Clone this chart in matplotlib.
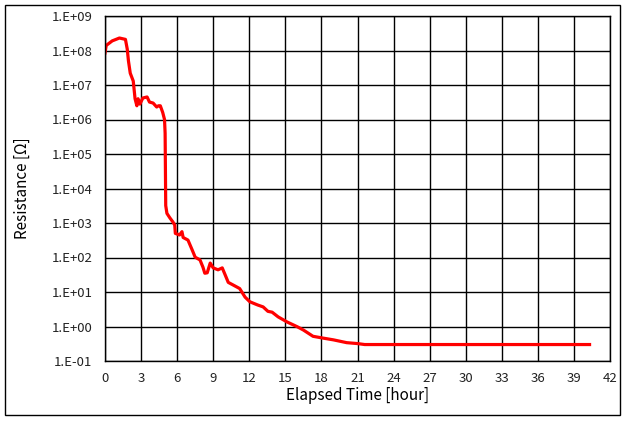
import math
import matplotlib
matplotlib.use("Agg")
import matplotlib.pyplot as plt
from matplotlib.patches import Rectangle
from matplotlib.ticker import FixedLocator, FuncFormatter, NullLocator

plt.rcParams['font.family'] = ['Noto Sans CJK KR', 'DejaVu Sans']

hours = [0.0, 0.1, 0.6, 1.2, 1.7, 1.85, 1.95, 2.1, 2.35, 2.5, 2.65, 2.75, 2.9,
         3.15, 3.5, 3.7, 4.0, 4.3, 4.45, 4.6, 4.8, 4.95, 5.0, 5.05, 5.15, 5.4,
         5.65, 5.8, 5.85, 6.2, 6.4, 6.5, 6.9, 7.25, 7.5, 7.9, 8.15, 8.3, 8.5,
         8.75, 9.0, 9.4, 9.75, 10.0, 10.25, 10.65, 11.2, 11.65, 12.05, 12.7,
         13.15, 13.55, 13.9, 14.4, 15.15, 16.0, 16.5, 17.3, 18.15, 19.0, 20.1,
         21.0, 21.6, 40.3]
resistance = [8.5e7, 1.4e8, 1.9e8, 2.3e8, 2.1e8, 1.1e8, 5.0e7, 2.2e7, 1.3e7,
              4.0e6, 2.5e6, 4.0e6, 2.8e6, 4.2e6, 4.5e6, 3.2e6, 3.0e6, 2.3e6,
              2.5e6, 2.5e6, 1.6e6, 1.0e6, 4.0e5, 3.2e3, 1.9e3, 1.4e3, 1.07e3,
              870, 500, 450, 560, 380, 320, 166, 102, 85, 52, 35, 36, 69, 50,
              44, 50, 31, 19, 16, 12.6, 7.1, 5.2, 4.2, 3.7, 2.75, 2.6, 1.9,
              1.35, 0.98, 0.79, 0.52, 0.46, 0.41, 0.34, 0.32, 0.30, 0.30]

x_ticks = list(range(0, 43, 3))
y_ticks = [1e-1, 1e0, 1e1, 1e2, 1e3, 1e4, 1e5, 1e6, 1e7, 1e8, 1e9]

fig = plt.figure(figsize=(6.25, 4.21), dpi=100)
fig.patches.append(Rectangle((5/625, 6/421), 615/625, 410/421, transform=fig.transFigure,
                             fill=False, edgecolor='black', linewidth=1.0))
ax = fig.add_axes([105/625, 1 - 361/421, 505/625, 345/421])
ax.plot(hours, resistance, color='#ff0000', linewidth=2.3, solid_joinstyle='round')
ax.set_yscale('log')
ax.set_xlim(0, 42)
ax.set_ylim(1e-1, 1e9)
ax.xaxis.set_major_locator(FixedLocator(x_ticks))
ax.yaxis.set_major_locator(FixedLocator(y_ticks))
ax.yaxis.set_minor_locator(NullLocator())

def fmt(v, pos):
    e = int(round(math.log10(v)))
    return "1.E%s%02d" % ('+' if e >= 0 else '-', abs(e))

ax.yaxis.set_major_formatter(FuncFormatter(fmt))
ax.grid(True, color='black', linewidth=1.0)
for s in ax.spines.values():
    s.set_linewidth(1.0)
ax.tick_params(length=0, labelsize=9.5, colors='#222222')
ax.tick_params(axis='y', pad=9)
ax.tick_params(axis='x', pad=8)
ax.set_xlabel('Elapsed Time [hour]', fontsize=11, labelpad=1)
ax.set_ylabel('Resistance [Ω]', fontsize=11, labelpad=15)
fig.savefig('out.png', dpi=100)
